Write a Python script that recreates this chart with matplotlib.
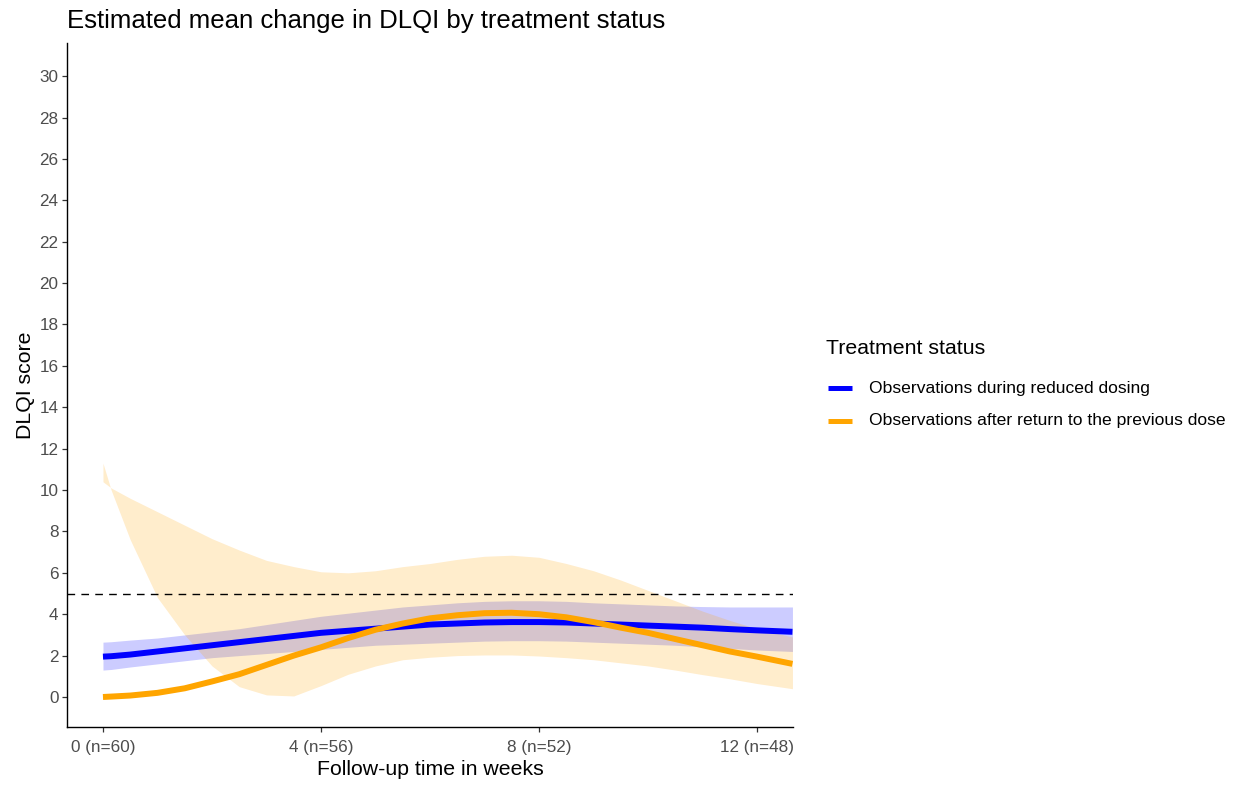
import matplotlib
matplotlib.use("Agg")
import matplotlib.pyplot as plt
from matplotlib.lines import Line2D

plt.rcParams['font.family'] = ['Liberation Sans', 'DejaVu Sans']

# follow-up time (weeks) at which the smoothed estimates are given
weeks = [0, 0.15, 0.5, 1, 1.5, 2, 2.5, 3, 3.5, 4, 4.5, 5, 5.5, 6, 6.5,
         7, 7.5, 8, 8.5, 9, 9.5, 10, 10.5, 11, 11.5, 12, 12.65]

# reduced dosing: mean and confidence band
reduced_mean = [1.95, 1.97, 2.05, 2.2, 2.35, 2.5, 2.65, 2.8, 2.95, 3.1, 3.2, 3.3, 3.4, 3.5,
                3.55, 3.6, 3.62, 3.62, 3.6, 3.55, 3.5, 3.45, 3.4, 3.35, 3.28, 3.22, 3.15]
reduced_lo = [1.3, 1.33, 1.45, 1.6, 1.75, 1.9, 2.0, 2.1, 2.2, 2.3, 2.4, 2.5, 2.55, 2.6,
              2.65, 2.7, 2.72, 2.72, 2.7, 2.65, 2.6, 2.55, 2.5, 2.42, 2.35, 2.27, 2.2]
reduced_hi = [2.65, 2.67, 2.75, 2.85, 3.0, 3.15, 3.3, 3.5, 3.7, 3.9, 4.05, 4.2, 4.35, 4.45,
              4.55, 4.62, 4.65, 4.65, 4.62, 4.55, 4.5, 4.45, 4.4, 4.37, 4.35, 4.35, 4.35]

# after return to the previous dose: mean and confidence band
returned_mean = [0.0, 0.02, 0.07, 0.2, 0.42, 0.75, 1.1, 1.55, 2.0, 2.4, 2.85, 3.25, 3.55, 3.8,
                 3.95, 4.05, 4.07, 4.0, 3.85, 3.62, 3.35, 3.1, 2.8, 2.5, 2.2, 1.95, 1.6]
returned_lo = [11.3, 10.0, 7.6, 4.8, 3.0, 1.5, 0.5, 0.1, 0.05, 0.55, 1.1, 1.5, 1.8, 1.92,
               2.0, 2.03, 2.03, 1.98, 1.9, 1.8, 1.65, 1.5, 1.3, 1.08, 0.88, 0.65, 0.4]
returned_hi = [10.4, 10.1, 9.6, 8.95, 8.3, 7.65, 7.1, 6.6, 6.3, 6.05, 6.0, 6.1, 6.3, 6.45,
               6.65, 6.8, 6.85, 6.75, 6.45, 6.1, 5.65, 5.15, 4.65, 4.15, 3.7, 3.3, 2.9]

tick_weeks = [0, 4, 8, 12]
tick_labels = ['0 (n=60)', '4 (n=56)', '8 (n=52)', '12 (n=48)']
threshold = 5

series_names = ['Observations during reduced dosing',
                'Observations after return to the previous dose']
blue = '#0000FF'
orange = '#FFA500'

W, H = 1241, 787
fig = plt.figure(figsize=(W / 100, H / 100), dpi=100)
ax = fig.add_axes([67 / W, 1 - 727 / H, (793 - 67) / W, (727 - 43) / H])

# lines first, ribbons over them (as ggplot draws it)
ax.plot(weeks, reduced_mean, color=blue, lw=4.3, solid_capstyle='butt')
ax.plot(weeks, returned_mean, color=orange, lw=4.3, solid_capstyle='butt')
ax.fill_between(weeks, reduced_lo, reduced_hi, color=blue, alpha=0.2, lw=0)
ax.fill_between(weeks, returned_lo, returned_hi, color=orange, alpha=0.2, lw=0)

ax.axhline(threshold, color='black', lw=1.0, ls=(0, (5.5, 4.5)))

ax.set_xlim(-0.66, 12.66)
ax.set_ylim(-1.45, 31.6)
ax.set_yticks(range(0, 31, 2))
ax.set_xticks(tick_weeks)
ax.set_xticklabels(tick_labels)

for s in ['top', 'right']:
    ax.spines[s].set_visible(False)
for s in ['left', 'bottom']:
    ax.spines[s].set_linewidth(1.0)
    ax.spines[s].set_color('black')
ax.tick_params(axis='both', direction='out', length=3.6, width=0.9, color='#333333',
               labelsize=12.3, labelcolor='#4D4D4D', pad=2.5)
ax.tick_params(axis='x', pad=5.5)

ax.set_xlabel('Follow-up time in weeks', fontsize=15.3, color='black', labelpad=4)
ax.set_ylabel('DLQI score', fontsize=15.3, color='black', labelpad=3)

fig.text(67 / W, 1 - 21 / H, 'Estimated mean change in DLQI by treatment status',
         fontsize=18.5, ha='left', va='center')

# legend, drawn by hand in figure pixels
fig.text(826 / W, 1 - 349 / H, 'Treatment status', fontsize=15.3,
         ha='left', va='center')
for name, col, y in zip(series_names, [blue, orange], [388, 421]):
    fig.add_artist(Line2D([828 / W, 852 / W], [1 - y / H, 1 - y / H],
                          transform=fig.transFigure, color=col, lw=3.6,
                          solid_capstyle='butt'))
    fig.text(869 / W, 1 - y / H, name, fontsize=12.6, ha='left', va='center')

fig.savefig('out.png', dpi=100)
